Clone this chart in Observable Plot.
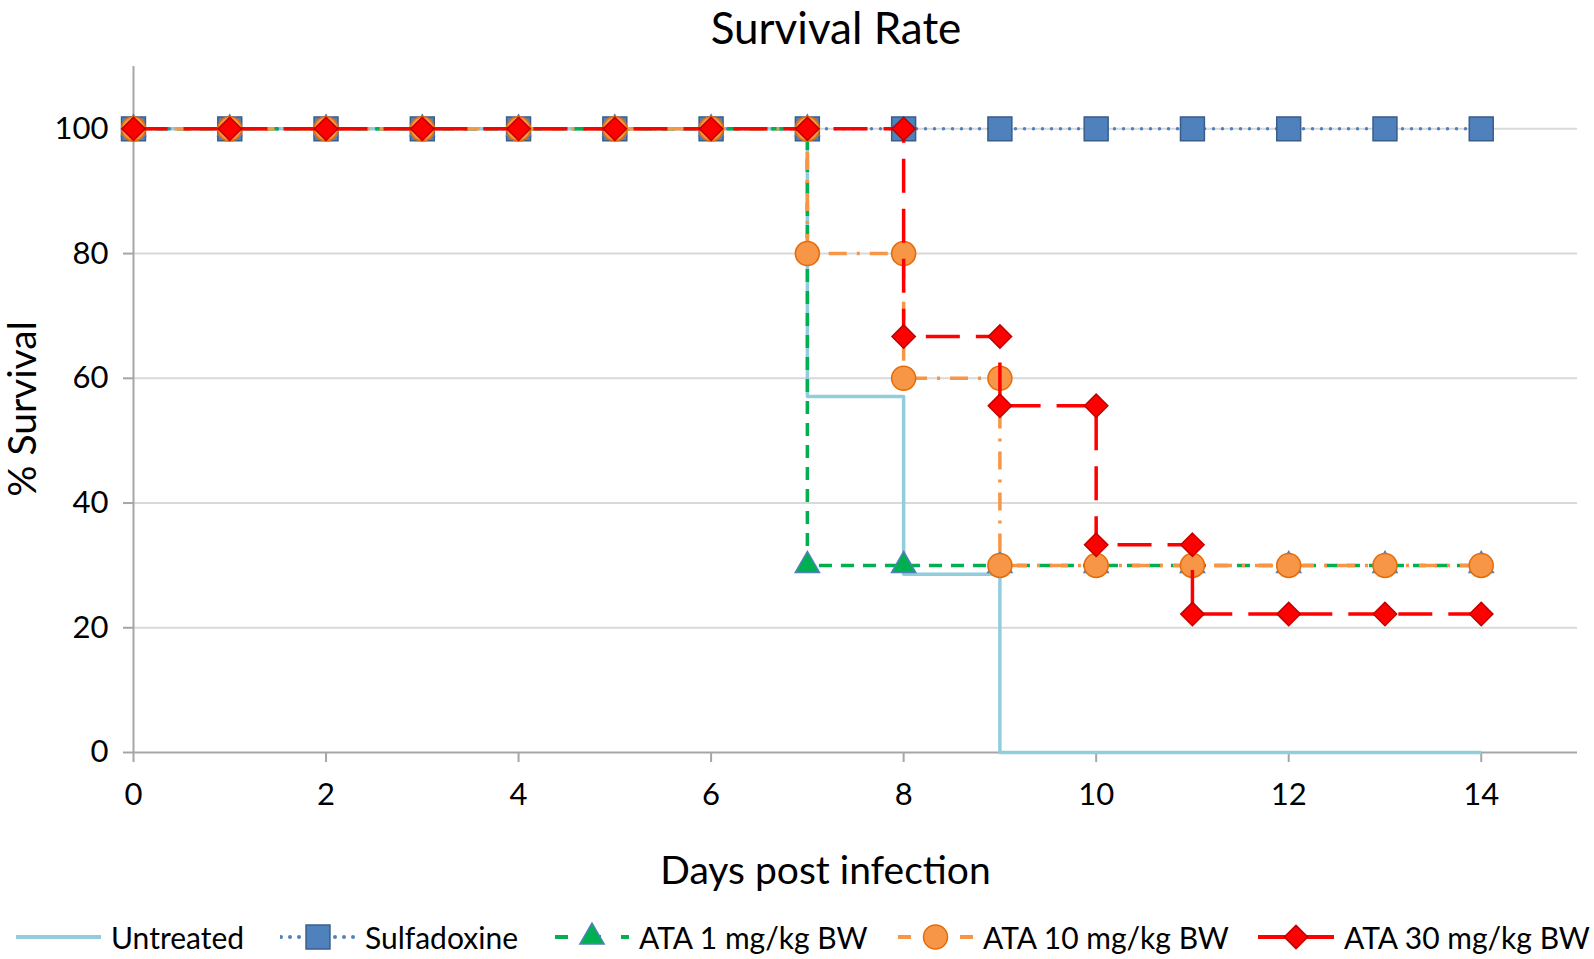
<!DOCTYPE html>
<html>
<head>
<meta charset="utf-8">
<script src="https://cdn.jsdelivr.net/npm/d3@7"></script>
<script src="https://cdn.jsdelivr.net/npm/@observablehq/plot@0.6"></script>
<style>
  html, body { margin: 0; padding: 0; background: #fff; }
  body { width: 1594px; height: 959px; position: relative; font-family: Lato, "Open Sans", sans-serif; color: #000; overflow: hidden; }
  #title { position: absolute; z-index: 2; left: 836px; top: 27px; transform: translate(-50%, -50%); font-size: 44px; line-height: 1; white-space: nowrap; }
  #ylabel { position: absolute; z-index: 2; left: 21px; top: 409px; transform: translate(-50%, -50%) rotate(-90deg); font-size: 39px; line-height: 1; white-space: nowrap; }
  #chart { position: absolute; z-index: 1; left: 0; top: 50px; }
  .item { position: absolute; z-index: 2; top: 937px; transform: translateY(-50%); display: flex; align-items: center; font-size: 30px; line-height: 1; white-space: nowrap; }
  .item span { margin-left: 9px; }
</style>
</head>
<body>
<div id="chart"></div>
<div id="title">Survival Rate</div>
<div id="ylabel">% Survival</div>
<div id="legend"></div>
<script>
// ---- data ----
const seriesNames = ["Untreated", "Sulfadoxine", "ATA 1 mg/kg BW", "ATA 10 mg/kg BW", "ATA 30 mg/kg BW"];

const untreatedDay      = [0, 1, 2, 3, 4, 5, 6, 7, 7, 8, 8, 9, 9, 10, 11, 12, 13, 14];
const untreatedSurvival = [100, 100, 100, 100, 100, 100, 100, 100, 57.1, 57.1, 28.6, 28.6, 0, 0, 0, 0, 0, 0];

const sulfadoxineDay      = [0, 1, 2, 3, 4, 5, 6, 7, 8, 9, 10, 11, 12, 13, 14];
const sulfadoxineSurvival = [100, 100, 100, 100, 100, 100, 100, 100, 100, 100, 100, 100, 100, 100, 100];

const ata1Day      = [0, 1, 2, 3, 4, 5, 6, 7, 7, 8, 9, 10, 11, 12, 13, 14];
const ata1Survival = [100, 100, 100, 100, 100, 100, 100, 100, 30, 30, 30, 30, 30, 30, 30, 30];

const ata10Day      = [0, 1, 2, 3, 4, 5, 6, 7, 7, 8, 8, 9, 9, 10, 11, 12, 13, 14];
const ata10Survival = [100, 100, 100, 100, 100, 100, 100, 100, 80, 80, 60, 60, 30, 30, 30, 30, 30, 30];

const ata30Day      = [0, 1, 2, 3, 4, 5, 6, 7, 8, 8, 9, 9, 10, 10, 11, 11, 12, 13, 14];
const ata30Survival = [100, 100, 100, 100, 100, 100, 100, 100, 100, 66.7, 66.7, 55.6, 55.6, 33.3, 33.3, 22.2, 22.2, 22.2, 22.2];

const xTicks = [0, 2, 4, 6, 8, 10, 12, 14];
const yTicks = [0, 20, 40, 60, 80, 100];
const gridTicks = [20, 40, 60, 80, 100];

// ---- styles ----
const styles = {
  "Untreated":       {stroke: "#92CDDC", dash: null, symbol: null},
  "Sulfadoxine":     {stroke: "#4F81BD", dash: "0,9", cap: "round", symbol: "square", r: 13.5, fill: "#4F81BD", mstroke: "#385D8A"},
  "ATA 1 mg/kg BW":  {stroke: "#00B050", dash: "13,9", symbol: "triangle", r: 9, fill: "#00B050", mstroke: "#4F81BD"},
  "ATA 10 mg/kg BW": {stroke: "#F79646", dash: "18,10,3,10", symbol: "circle", r: 12, fill: "#F79646", mstroke: "#E46C0A"},
  "ATA 30 mg/kg BW": {stroke: "#FF0000", dash: "34,16", symbol: "diamond2", r: 10.5, fill: "#FF0000", mstroke: "#C00000"}
};

const seriesData = [
  [untreatedDay, untreatedSurvival],
  [sulfadoxineDay, sulfadoxineSurvival],
  [ata1Day, ata1Survival],
  [ata10Day, ata10Survival],
  [ata30Day, ata30Survival]
];

const rows = [];
seriesNames.forEach((name, i) => {
  const [xs, ys] = seriesData[i];
  xs.forEach((d, j) => rows.push({series: name, day: d, survival: ys[j], order: j}));
});

const seriesMarks = [];
seriesNames.forEach(name => {
  const s = styles[name];
  const data = rows.filter(r => r.series === name);
  seriesMarks.push(Plot.line(data, {
    x: "day", y: "survival", stroke: s.stroke, strokeWidth: 3.5,
    strokeDasharray: s.dash, strokeLinecap: s.cap || "butt", strokeLinejoin: "round", curve: "linear"
  }));
  if (s.symbol) {
    seriesMarks.push(Plot.dot(data, {
      x: "day", y: "survival", symbol: s.symbol, r: s.r, fill: s.fill, stroke: s.mstroke, strokeWidth: 1.5
    }));
  }
});

const chart = Plot.plot({
  width: 1594,
  height: 850,
  marginLeft: 133,
  marginRight: 17,
  marginTop: 16,
  marginBottom: 148,
  x: {domain: [0, 15]},
  y: {domain: [0, 110]},
  style: {fontFamily: "Lato, 'Open Sans', sans-serif", fontSize: "31px", color: "#000", background: "transparent", overflow: "visible"},
  marks: [
    Plot.gridY(gridTicks, {stroke: "#D9D9D9", strokeOpacity: 1, strokeWidth: 2}),
    Plot.ruleX([0], {stroke: "#A6A6A6", strokeWidth: 2}),
    Plot.ruleY([0], {stroke: "#A6A6A6", strokeWidth: 2}),
    Plot.axisX(xTicks, {tickSize: 10, tickPadding: 20, stroke: "#A6A6A6", strokeWidth: 2, label: null}),
    Plot.axisY(yTicks, {tickSize: 10, tickPadding: 15, stroke: "#A6A6A6", strokeWidth: 2, label: null}),
    ...seriesMarks,
    Plot.text(["Days post infection"], {frameAnchor: "bottom", dy: 131, dx: -30, fontSize: 39, fill: "#000"})
  ]
});
document.getElementById("chart").appendChild(chart);

// ---- legend ----
const legend = document.getElementById("legend");
const ns = "http://www.w3.org/2000/svg";
const swatchLeft  = {"Untreated": 15, "Sulfadoxine": 280, "ATA 1 mg/kg BW": 554, "ATA 10 mg/kg BW": 897, "ATA 30 mg/kg BW": 1257};
const swatchWidth = {"Untreated": 87, "Sulfadoxine": 76, "ATA 1 mg/kg BW": 76, "ATA 10 mg/kg BW": 77, "ATA 30 mg/kg BW": 78};
const legendDash = {"Untreated": null, "Sulfadoxine": "0,9", "ATA 1 mg/kg BW": "13,20", "ATA 10 mg/kg BW": "13,18", "ATA 30 mg/kg BW": null};
seriesNames.forEach(name => {
  const s = styles[name];
  const w = swatchWidth[name], h = 30;
  const item = document.createElement("div");
  item.className = "item";
  item.style.left = swatchLeft[name] + "px";
  const svg = document.createElementNS(ns, "svg");
  svg.setAttribute("width", w);
  svg.setAttribute("height", h);
  const line = document.createElementNS(ns, "line");
  line.setAttribute("x1", 1); line.setAttribute("x2", w - 1);
  line.setAttribute("y1", h / 2); line.setAttribute("y2", h / 2);
  line.setAttribute("stroke", s.stroke);
  line.setAttribute("stroke-width", 4);
  if (legendDash[name]) line.setAttribute("stroke-dasharray", legendDash[name]);
  if (s.cap) line.setAttribute("stroke-linecap", s.cap);
  svg.appendChild(line);
  if (s.symbol) {
    const sym = {square: d3.symbolSquare, triangle: d3.symbolTriangle, circle: d3.symbolCircle, diamond2: d3.symbolDiamond2}[s.symbol];
    const p = document.createElementNS(ns, "path");
    p.setAttribute("d", d3.symbol(sym, s.r * s.r * Math.PI)());
    p.setAttribute("transform", `translate(${w / 2},${h / 2})`);
    p.setAttribute("fill", s.fill);
    p.setAttribute("stroke", s.mstroke);
    p.setAttribute("stroke-width", 1.5);
    svg.appendChild(p);
  }
  item.appendChild(svg);
  const span = document.createElement("span");
  span.textContent = name;
  item.appendChild(span);
  legend.appendChild(item);
});
</script>
</body>
</html>
